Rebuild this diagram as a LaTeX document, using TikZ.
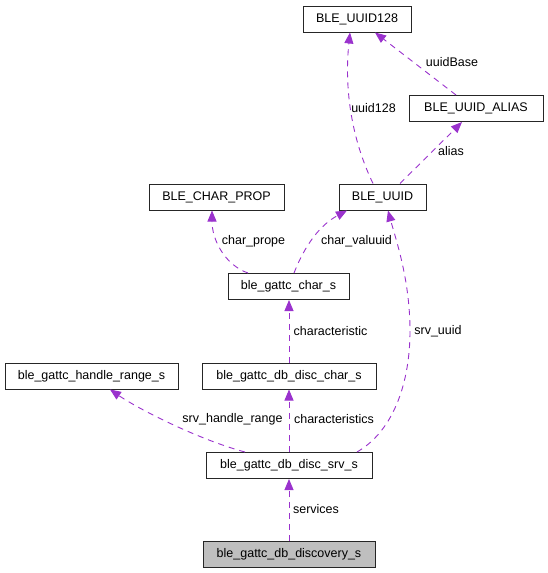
\documentclass[tikz,border=0pt]{standalone}
\usepackage{fontspec}
\setmainfont{Liberation Sans}
\usetikzlibrary{arrows.meta,positioning}
\definecolor{relpurple}{HTML}{9A32CD}
\definecolor{classgray}{HTML}{BFBFBF}

\begin{document}
\begin{tikzpicture}[x=1pt, y=-1pt,
    cls/.style={draw=black!85, line width=1pt, rectangle, minimum height=26pt, inner sep=0pt, font=\fontsize{12.5}{14}\selectfont},
    rel/.style={draw=relpurple, dash pattern=on 6pt off 5pt, line width=0.9pt, -{Triangle[length=11pt,width=9pt]}},
    lbl/.style={inner sep=0pt, font=\fontsize{12.5}{14}\selectfont}
]
    \useasboundingbox (0,0) rectangle (548,573);

    \node [cls, minimum width=108pt] (uuid128) at (357,19) {BLE\_UUID128};
    \node [cls, minimum width=134pt] (alias) at (476,108.5) {BLE\_UUID\_ALIAS};
    \node [cls, minimum width=87pt] (uuid) at (382.5,197) {BLE\_UUID};
    \node [cls, minimum width=135pt] (charprop) at (216.5,197) {BLE\_CHAR\_PROP};
    \node [cls, minimum width=121pt] (gattcchar) at (288.5,286.5) {ble\_gattc\_char\_s};
    \node [cls, minimum width=173pt] (handlerange) at (91.5,376) {ble\_gattc\_handle\_range\_s};
    \node [cls, minimum width=174pt] (discchar) at (289,376) {ble\_gattc\_db\_disc\_char\_s};
    \node [cls, minimum width=166pt] (discsrv) at (289,465.5) {ble\_gattc\_db\_disc\_srv\_s};
    \node [cls, minimum width=172pt, fill=classgray] (discovery) at (289,554.5) {ble\_gattc\_db\_discovery\_s};

    \draw [rel] ([xshift=-9.5pt]uuid.north) .. controls (352,140) and (344,90) .. ([xshift=-7pt]uuid128.south);
    \draw [rel] ([xshift=-20pt]alias.north) -- ([xshift=18pt]uuid128.south);
    \draw [rel] ([xshift=17.5pt]uuid.north) -- ([xshift=-14pt]alias.south);
    \draw [rel] ([xshift=-40.5pt]gattcchar.north) .. controls (225,265) and (212,240) .. ([xshift=-4.5pt]charprop.south);
    \draw [rel] ([xshift=5.5pt]gattcchar.north) .. controls (305,245) and (320,225) .. ([xshift=-35.5pt]uuid.south);
    \draw [rel] ([xshift=68pt]discsrv.north) .. controls (395,430) and (410,380) .. (410,331) .. controls (410,280) and (396,240) .. ([xshift=5.5pt]uuid.south);
    \draw [rel] (discchar.north) -- (discchar.north |- gattcchar.south);
    \draw [rel] ([xshift=-44pt]discsrv.north) .. controls (200,440) and (140,410) .. ([xshift=18.5pt]handlerange.south);
    \draw [rel] (discsrv.north) -- (discchar.south);
    \draw [rel] (discovery.north) -- (discsrv.south);

    \node [lbl] (luuid128) at (373.5,108) {uuid128};
    \node [lbl] (luuidbase) at (452,62) {uuidBase};
    \node [lbl] (lalias) at (451,151) {alias};
    \node [lbl] (lcharprope) at (253.5,241) {char\_prope};
    \node [lbl] (lcharvaluuid) at (356.5,241) {char\_valuuid};
    \node [lbl] (lcharacteristic) at (330.5,331) {characteristic};
    \node [lbl] (lsrvuuid) at (438,331) {srv\_uuid};
    \node [lbl] (lsrvhandlerange) at (232.5,419) {srv\_handle\_range};
    \node [lbl] (lcharacteristics) at (334,419) {characteristics};
    \node [lbl] (lservices) at (316,509) {services};
\end{tikzpicture}
\end{document}
